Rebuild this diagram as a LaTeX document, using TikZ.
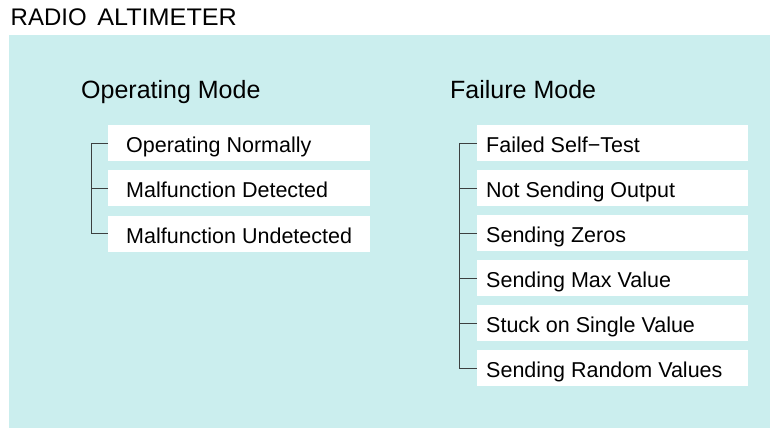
\documentclass[tikz,border=0pt]{standalone}
\usepackage{fontspec}
\setmainfont{Liberation Sans}
\definecolor{bgcyan}{RGB}{203,238,238}
\definecolor{linegray}{RGB}{60,64,64}
\begin{document}
\begin{tikzpicture}[x=1pt,y=-1pt,
  titletext/.style={anchor=base west,inner sep=0pt,font=\fontsize{24}{28}\selectfont},
  headtext/.style={anchor=base west,inner sep=0pt,font=\fontsize{25}{29}\selectfont},
  itemtext/.style={anchor=base west,inner sep=0pt,font=\fontsize{21.5}{25}\selectfont},
  itembox/.style={fill=white,draw=none,inner sep=0pt,minimum height=36pt,anchor=west},
  conn/.style={draw=linegray,line width=1pt}]
\useasboundingbox (0,0) rectangle (770,428);
\fill[bgcyan] (9,35) rectangle (770,428);
\node[titletext] (title) at (10.5,25.5) {RADIO\hspace{4pt} \scalebox{1.05}[1]{ALTIMETER}};
\node[headtext] (opmode) at (81,98) {Operating Mode};
\node[headtext] (failmode) at (450,98) {Failure Mode};
% left boxes
\node[itembox,minimum width=262pt] (o1) at (108,143) {};
\node[itembox,minimum width=262pt] (o2) at (108,188) {};
\node[itembox,minimum width=262pt] (o3) at (108,233.5) {};
\node[itemtext] (o1t) at (126,152.5) {Operating Normally};
\node[itemtext] (o2t) at (126,197.5) {Malfunction Detected};
\node[itemtext] (o3t) at (126,243) {Malfunction Undetected};
% right boxes
\node[itembox,minimum width=271pt] (f1) at (477,143) {};
\node[itembox,minimum width=271pt] (f2) at (477,188) {};
\node[itembox,minimum width=271pt] (f3) at (477,233) {};
\node[itembox,minimum width=271pt] (f4) at (477,278) {};
\node[itembox,minimum width=271pt] (f5) at (477,323) {};
\node[itembox,minimum width=271pt] (f6) at (477,368) {};
\node[itemtext] (f1t) at (486,152) {Failed Self−Test};
\node[itemtext] (f2t) at (486,197) {Not Sending Output};
\node[itemtext] (f3t) at (486,242) {Sending Zeros};
\node[itemtext] (f4t) at (486,287) {Sending Max Value};
\node[itemtext] (f5t) at (486,332) {Stuck on Single Value};
\node[itemtext] (f6t) at (486,377) {Sending Random Values};
% connectors
\coordinate (lx) at (91,0);
\coordinate (rx) at (459,0);
\draw[conn] (o1.west) -- (o1.west -| lx) -- (o3.west -| lx) -- (o3.west);
\draw[conn] (o2.west) -- (o2.west -| lx);
\draw[conn] (f1.west) -- (f1.west -| rx) -- (f6.west -| rx) -- (f6.west);
\foreach \n in {f2,f3,f4,f5} \draw[conn] (\n.west) -- (\n.west -| rx);
\end{tikzpicture}
\end{document}
